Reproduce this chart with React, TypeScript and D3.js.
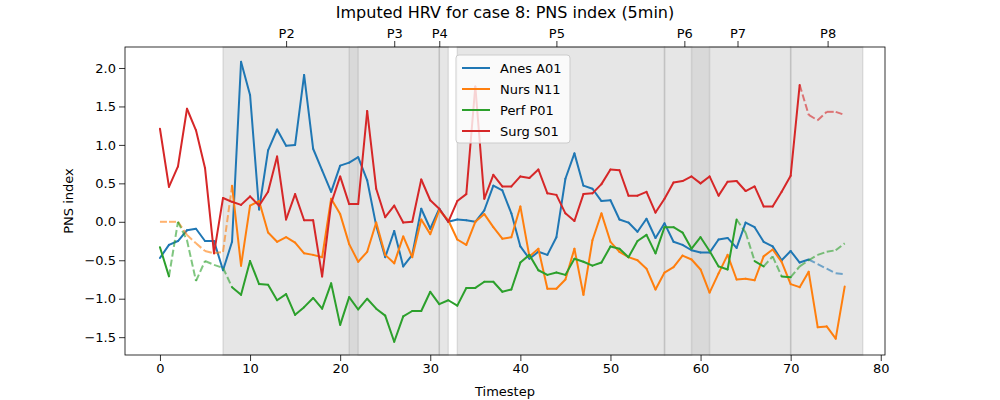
import { useEffect, useRef } from 'react';
import * as d3 from 'd3';

const anes = [-0.47,-0.30,-0.25,-0.11,-0.09,-0.25,-0.25,-0.63,-0.26,2.08,1.65,0.16,0.93,1.20,0.99,1.00,1.91,0.95,0.67,0.39,0.73,0.77,0.84,0.54,-0.05,-0.46,-0.12,-0.58,-0.43,0.17,-0.09,0.17,0.0,0.03,0.02,0.0,0.15,0.47,0.41,0.11,-0.32,-0.48,-0.39,-0.43,-0.20,0.56,0.89,0.47,0.43,0.27,0.28,0.03,-0.01,-0.13,0.04,-0.21,-0.02,-0.26,-0.30,-0.37,-0.40,-0.40,-0.23,-0.21,-0.34,-0.01,-0.07,-0.26,-0.32,-0.50,-0.38,-0.53,-0.49,-0.55,-0.61,-0.67,-0.68];
const nurs = [0,0,0,-0.17,-0.28,-0.38,-0.41,-0.39,0.47,-0.57,0.21,0.27,-0.14,-0.26,-0.20,-0.27,-0.41,-0.43,-0.46,0.30,0.10,-0.29,-0.52,-0.39,-0.01,-0.43,-0.54,-0.19,-0.46,0.03,-0.16,0.15,0.02,-0.23,-0.30,0.0,0.10,-0.07,-0.22,-0.20,0.20,-0.45,-0.35,-0.87,-0.87,-0.75,-0.35,-0.95,-0.24,0.11,-0.26,-0.39,-0.46,-0.50,-0.61,-0.88,-0.66,-0.59,-0.44,-0.49,-0.62,-0.92,-0.67,-0.43,-0.75,-0.74,-0.76,-0.45,-0.36,-0.52,-0.81,-0.85,-0.65,-1.37,-1.36,-1.52,-0.84];
const perf = [-0.33,-0.71,0,-0.24,-0.77,-0.51,-0.56,-0.60,-0.85,-0.95,-0.51,-0.81,-0.82,-1.02,-0.94,-1.21,-1.11,-0.99,-1.13,-0.80,-1.34,-0.98,-1.14,-1.00,-1.13,-1.22,-1.56,-1.23,-1.16,-1.16,-0.91,-1.07,-1.02,-1.09,-0.86,-0.86,-0.78,-0.78,-0.91,-0.88,-0.53,-0.43,-0.63,-0.69,-0.66,-0.69,-0.48,-0.52,-0.57,-0.53,-0.32,-0.35,-0.46,-0.25,-0.17,-0.41,-0.07,-0.07,-0.14,-0.35,-0.20,-0.38,-0.58,-0.62,0.03,-0.14,-0.51,-0.58,-0.45,-0.71,-0.72,-0.58,-0.50,-0.43,-0.39,-0.37,-0.28];
const surg = [1.21,0.455,0.72,1.47,1.19,0.70,-0.41,0.31,0.26,0.22,0.33,0.21,0.39,0.85,0.03,0.36,0.02,0.02,-0.71,0.24,0.59,0.23,0.23,1.44,0.43,0.06,0.21,-0.01,0.0,0.55,0.28,0.17,0.0,0.27,0.36,1.76,0.30,0.61,0.46,0.46,0.59,0.57,0.68,0.37,0.35,0.11,0.01,0.36,0.37,0.49,0.68,0.67,0.34,0.34,0.39,0.12,0.30,0.51,0.53,0.59,0.50,0.59,0.34,0.52,0.53,0.40,0.46,0.20,0.20,0.39,0.60,1.78,1.39,1.32,1.43,1.43,1.39];

const seriesNames = ['Anes A01', 'Nurs N11', 'Perf P01', 'Surg S01'];
const seriesColors = ['#1f77b4', '#ff7f0e', '#2ca02c', '#d62728'];
const seriesValues = [anes, nurs, perf, surg];
const imputed = [
  [73, 74, 75, 76],
  [0, 1, 2, 3, 4, 5, 6, 7],
  [2, 3, 4, 5, 6, 7, 65, 68, 71, 72, 73, 74, 75, 76],
  [72, 73, 74, 75, 76],
];

const phaseSpans: [number, number][] = [[7, 21], [22, 31], [31, 32], [33, 56], [56, 59], [61, 70], [70, 78]];
const darkSpans: [number, number][] = [[21, 22], [59, 61]];
const phaseTicks = [14, 26, 31, 44, 58.2, 64.1, 74.1];
const phaseLabels = ['P2', 'P3', 'P4', 'P5', 'P6', 'P7', 'P8'];
const xTicks = [0, 10, 20, 30, 40, 50, 60, 70, 80];
const yTicks = [-1.5, -1.0, -0.5, 0.0, 0.5, 1.0, 1.5, 2.0];

export default function App() {
  const ref = useRef<SVGSVGElement>(null);

  useEffect(() => {
    const svg = d3.select(ref.current);
    svg.selectAll('*').remove();
    const L = 125, R = 885, T = 47, B = 355;
    const x = d3.scaleLinear().domain([-3.88, 80.47]).range([L, R]);
    const y = d3.scaleLinear().domain([-1.732, 2.273]).range([B, T]);
    const font = 'DejaVu Sans, sans-serif';

    const g = svg.append('g');
    const spans = g.append('g');
    phaseSpans.forEach(([a, b]) => {
      spans.append('rect').attr('x', x(a)).attr('y', T).attr('width', x(b) - x(a)).attr('height', B - T)
        .attr('fill', 'rgba(128,128,128,0.2)').attr('stroke', 'rgba(128,128,128,0.2)').attr('stroke-width', 1.5);
    });
    darkSpans.forEach(([a, b]) => {
      spans.append('rect').attr('x', x(a)).attr('y', T).attr('width', x(b) - x(a)).attr('height', B - T)
        .attr('fill', 'rgba(128,128,128,0.3)');
    });

    const line = d3.line<[number, number]>().x(d => x(d[0])).y(d => y(d[1]));
    seriesValues.forEach((vals, s) => {
      const imp = new Set(imputed[s]);
      for (let i = 0; i < vals.length - 1; i++) {
        const dashed = imp.has(i) || imp.has(i + 1);
        const seg: [number, number][] = [[i, vals[i]], [i + 1, vals[i + 1]]];
        g.append('path').attr('d', line(seg)).attr('fill', 'none')
          .attr('stroke', seriesColors[s]).attr('stroke-width', 2)
          .attr('stroke-linecap', dashed ? 'butt' : 'round')
          .attr('stroke-dasharray', dashed ? '7,3' : null)
          .attr('opacity', dashed ? 0.6 : 1);
      }
    });

    const xAxis = svg.append('g').attr('transform', `translate(0,${B})`)
      .call(d3.axisBottom(x).tickValues(xTicks).tickFormat(d3.format('d')).tickSizeOuter(0));
    const yAxis = svg.append('g').attr('transform', `translate(${L},0)`)
      .call(d3.axisLeft(y).tickValues(yTicks).tickFormat(d3.format('.1f')).tickSizeOuter(0));
    const topAxis = svg.append('g').attr('transform', `translate(0,${T})`)
      .call(d3.axisTop(x).tickValues(phaseTicks).tickFormat((_, i) => phaseLabels[i]).tickSizeOuter(0));
    [xAxis, yAxis, topAxis].forEach(a => {
      a.select('.domain').remove();
      a.selectAll('line').attr('stroke', '#000').attr('stroke-width', 0.8);
      a.selectAll('text').attr('font-family', font).attr('font-size', 13).attr('fill', '#000');
    });
    yAxis.selectAll('text').text((d: any) => d3.format('.1f')(d).replace('-', '\u2212'));

    svg.append('rect').attr('x', L).attr('y', T).attr('width', R - L).attr('height', B - T)
      .attr('fill', 'none').attr('stroke', '#000').attr('stroke-width', 0.8);

    svg.append('text').attr('x', (L + R) / 2).attr('y', 18).attr('text-anchor', 'middle')
      .attr('font-family', font).attr('font-size', 16).text('Imputed HRV for case 8: PNS index (5min)');
    svg.append('text').attr('x', (L + R) / 2).attr('y', 396).attr('text-anchor', 'middle')
      .attr('font-family', font).attr('font-size', 13).text('Timestep');
    svg.append('text').attr('transform', `translate(73,${(T + B) / 2}) rotate(-90)`).attr('text-anchor', 'middle')
      .attr('font-family', font).attr('font-size', 13).text('PNS index');

    const lg = svg.append('g').attr('transform', 'translate(456,55)');
    lg.append('rect').attr('width', 114).attr('height', 88).attr('rx', 3)
      .attr('fill', 'rgba(255,255,255,0.8)').attr('stroke', '#ccc');
    seriesNames.forEach((n, i) => {
      const yy = 13 + i * 21;
      lg.append('line').attr('x1', 6).attr('x2', 34).attr('y1', yy).attr('y2', yy)
        .attr('stroke', seriesColors[i]).attr('stroke-width', 2);
      lg.append('text').attr('x', 44).attr('y', yy + 5).attr('font-family', font).attr('font-size', 13).text(n);
    });
  }, []);

  return <svg ref={ref} width={1000} height={400} style={{ position: 'absolute', left: 0, top: 0, background: '#fff' }} />;
}
